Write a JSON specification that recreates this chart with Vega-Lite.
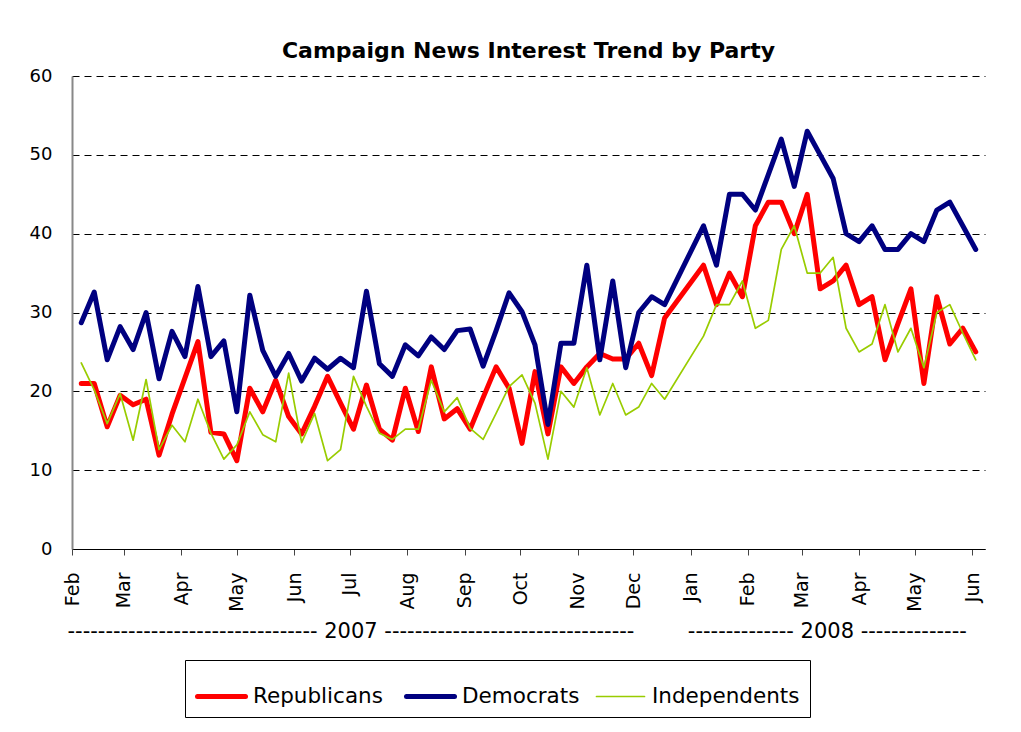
{
  "$schema": "https://vega.github.io/schema/vega-lite/v6.json",
  "width": 913,
  "height": 473,
  "padding": {"left": 29, "top": 40, "right": 30, "bottom": 10},
  "background": "white",
  "title": {
    "text": "Campaign News Interest Trend by Party",
    "font": "DejaVu Sans",
    "fontSize": 22,
    "fontWeight": "bold",
    "color": "black",
    "offset": 4,
    "anchor": "middle"
  },
  "data": {
    "values": [
      {"d": "2007-02-06", "Republicans": 21.0, "Democrats": 28.7, "Independents": 23.6},
      {"d": "2007-02-13", "Republicans": 21.0, "Democrats": 32.6, "Independents": 20.2},
      {"d": "2007-02-20", "Republicans": 15.5, "Democrats": 24.0, "Independents": 15.9},
      {"d": "2007-02-27", "Republicans": 19.5, "Democrats": 28.2, "Independents": 19.7},
      {"d": "2007-03-06", "Republicans": 18.3, "Democrats": 25.3, "Independents": 13.8},
      {"d": "2007-03-13", "Republicans": 19.0, "Democrats": 30.0, "Independents": 21.5},
      {"d": "2007-03-20", "Republicans": 11.9, "Democrats": 21.6, "Independents": 12.6},
      {"d": "2007-03-27", "Republicans": 17.1, "Democrats": 27.6, "Independents": 15.7},
      {"d": "2007-04-03", "Republicans": 21.7, "Democrats": 24.4, "Independents": 13.6},
      {"d": "2007-04-10", "Republicans": 26.3, "Democrats": 33.3, "Independents": 19.0},
      {"d": "2007-04-17", "Republicans": 14.8, "Democrats": 24.4, "Independents": 14.7},
      {"d": "2007-04-24", "Republicans": 14.6, "Democrats": 26.4, "Independents": 11.4},
      {"d": "2007-05-01", "Republicans": 11.2, "Democrats": 17.4, "Independents": 13.2},
      {"d": "2007-05-08", "Republicans": 20.4, "Democrats": 32.2, "Independents": 17.4},
      {"d": "2007-05-15", "Republicans": 17.4, "Democrats": 25.2, "Independents": 14.5},
      {"d": "2007-05-22", "Republicans": 21.4, "Democrats": 21.9, "Independents": 13.6},
      {"d": "2007-05-29", "Republicans": 16.8, "Democrats": 24.8, "Independents": 22.3},
      {"d": "2007-06-05", "Republicans": 14.6, "Democrats": 21.3, "Independents": 13.5},
      {"d": "2007-06-12", "Republicans": 18.1, "Democrats": 24.2, "Independents": 17.2},
      {"d": "2007-06-19", "Republicans": 21.9, "Democrats": 22.8, "Independents": 11.2},
      {"d": "2007-06-26", "Republicans": 18.5, "Democrats": 24.2, "Independents": 12.6},
      {"d": "2007-07-03", "Republicans": 15.2, "Democrats": 23.0, "Independents": 21.9},
      {"d": "2007-07-10", "Republicans": 20.8, "Democrats": 32.7, "Independents": 18.1},
      {"d": "2007-07-17", "Republicans": 15.2, "Democrats": 23.5, "Independents": 14.7},
      {"d": "2007-07-24", "Republicans": 13.8, "Democrats": 21.9, "Independents": 13.9},
      {"d": "2007-07-31", "Republicans": 20.4, "Democrats": 25.9, "Independents": 15.2},
      {"d": "2007-08-07", "Republicans": 14.9, "Democrats": 24.5, "Independents": 15.2},
      {"d": "2007-08-14", "Republicans": 23.1, "Democrats": 26.9, "Independents": 21.4},
      {"d": "2007-08-21", "Republicans": 16.5, "Democrats": 25.3, "Independents": 17.4},
      {"d": "2007-08-28", "Republicans": 17.8, "Democrats": 27.7, "Independents": 19.2},
      {"d": "2007-09-04", "Republicans": 15.2, "Democrats": 27.9, "Independents": 15.3},
      {"d": "2007-09-11", "Republicans": 19.2, "Democrats": 23.2, "Independents": 13.9},
      {"d": "2007-09-18", "Republicans": 23.1, "Democrats": 27.7, "Independents": 17.2},
      {"d": "2007-09-25", "Republicans": 20.4, "Democrats": 32.5, "Independents": 20.6},
      {"d": "2007-10-02", "Republicans": 13.4, "Democrats": 30.1, "Independents": 22.1},
      {"d": "2007-10-09", "Republicans": 22.5, "Democrats": 25.9, "Independents": 18.5},
      {"d": "2007-10-16", "Republicans": 14.6, "Democrats": 15.8, "Independents": 11.4},
      {"d": "2007-10-23", "Republicans": 23.1, "Democrats": 26.1, "Independents": 20.0},
      {"d": "2007-10-30", "Republicans": 21.0, "Democrats": 26.1, "Independents": 18.0},
      {"d": "2007-11-06", "Republicans": 23.1, "Democrats": 36.0, "Independents": 23.0},
      {"d": "2007-11-13", "Republicans": 24.8, "Democrats": 24.0, "Independents": 17.0},
      {"d": "2007-11-20", "Republicans": 24.1, "Democrats": 34.0, "Independents": 21.0},
      {"d": "2007-11-27", "Republicans": 24.1, "Democrats": 23.0, "Independents": 17.0},
      {"d": "2007-12-04", "Republicans": 26.1, "Democrats": 30.0, "Independents": 18.0},
      {"d": "2007-12-11", "Republicans": 22.0, "Democrats": 32.0, "Independents": 21.0},
      {"d": "2007-12-18", "Republicans": 29.3, "Democrats": 31.0, "Independents": 19.0},
      {"d": "2008-01-08", "Republicans": 36, "Democrats": 41, "Independents": 27},
      {"d": "2008-01-15", "Republicans": 31, "Democrats": 36, "Independents": 31},
      {"d": "2008-01-22", "Republicans": 35, "Democrats": 45, "Independents": 31},
      {"d": "2008-01-29", "Republicans": 32, "Democrats": 45, "Independents": 34},
      {"d": "2008-02-05", "Republicans": 41, "Democrats": 43, "Independents": 28},
      {"d": "2008-02-12", "Republicans": 44, "Democrats": 47.5, "Independents": 29},
      {"d": "2008-02-19", "Republicans": 44, "Democrats": 52, "Independents": 38},
      {"d": "2008-02-26", "Republicans": 40, "Democrats": 46, "Independents": 41},
      {"d": "2008-03-04", "Republicans": 45, "Democrats": 53, "Independents": 35},
      {"d": "2008-03-11", "Republicans": 33, "Democrats": 50, "Independents": 35},
      {"d": "2008-03-18", "Republicans": 34, "Democrats": 47, "Independents": 37},
      {"d": "2008-03-25", "Republicans": 36, "Democrats": 40, "Independents": 28},
      {"d": "2008-04-01", "Republicans": 31, "Democrats": 39, "Independents": 25},
      {"d": "2008-04-08", "Republicans": 32, "Democrats": 41, "Independents": 26},
      {"d": "2008-04-15", "Republicans": 24, "Democrats": 38, "Independents": 31},
      {"d": "2008-04-22", "Republicans": 28.6, "Democrats": 38, "Independents": 25},
      {"d": "2008-04-29", "Republicans": 33, "Democrats": 40, "Independents": 28},
      {"d": "2008-05-06", "Republicans": 21, "Democrats": 39, "Independents": 23},
      {"d": "2008-05-13", "Republicans": 32, "Democrats": 43, "Independents": 30},
      {"d": "2008-05-20", "Republicans": 26, "Democrats": 44, "Independents": 31},
      {"d": "2008-05-27", "Republicans": 28, "Democrats": 41, "Independents": 27.4},
      {"d": "2008-06-03", "Republicans": 25, "Democrats": 38, "Independents": 24}
    ]
  },
  "transform": [
    {"fold": ["Republicans", "Democrats", "Independents"], "as": ["party", "value"]}
  ],
  "mark": {"type": "line", "strokeJoin": "round", "strokeCap": "round"},
  "encoding": {
    "x": {
      "field": "d",
      "type": "temporal",
      "scale": {
        "type": "utc",
        "domain": [
          {"year": 2007, "month": 2, "date": 1, "utc": true},
          {"year": 2008, "month": 6, "date": 8, "utc": true}
        ]
      },
      "axis": {
        "values": [
          {"year": 2007, "month": 2, "date": 1, "utc": true},
          {"year": 2007, "month": 3, "date": 1, "utc": true},
          {"year": 2007, "month": 4, "date": 1, "utc": true},
          {"year": 2007, "month": 5, "date": 1, "utc": true},
          {"year": 2007, "month": 6, "date": 1, "utc": true},
          {"year": 2007, "month": 7, "date": 1, "utc": true},
          {"year": 2007, "month": 8, "date": 1, "utc": true},
          {"year": 2007, "month": 9, "date": 1, "utc": true},
          {"year": 2007, "month": 10, "date": 1, "utc": true},
          {"year": 2007, "month": 11, "date": 1, "utc": true},
          {"year": 2007, "month": 12, "date": 1, "utc": true},
          {"year": 2008, "month": 1, "date": 1, "utc": true},
          {"year": 2008, "month": 2, "date": 1, "utc": true},
          {"year": 2008, "month": 3, "date": 1, "utc": true},
          {"year": 2008, "month": 4, "date": 1, "utc": true},
          {"year": 2008, "month": 5, "date": 1, "utc": true},
          {"year": 2008, "month": 6, "date": 1, "utc": true}
        ],
        "format": "%b",
        "labelAngle": 270,
        "labelFont": "DejaVu Sans",
        "labelFontSize": 19,
        "labelColor": "black",
        "labelPadding": 17,
        "labelOverlap": false,
        "labelBound": false,
        "labelFlush": false,
        "tickSize": 6,
        "tickColor": "#444444",
        "domainColor": "black",
        "domainWidth": 1,
        "grid": false,
        "title": "---------------------------------\u00a02007\u00a0---------------------------------\u00a0\u00a0\u00a0\u00a0\u00a0\u00a0\u00a0\u00a0--------------\u00a02008\u00a0--------------",
        "titleFont": "DejaVu Sans",
        "titleFontSize": 21,
        "titleFontWeight": "normal",
        "titleColor": "black",
        "titleAnchor": "start",
        "titleX": -5,
        "titlePadding": 9
      }
    },
    "y": {
      "field": "value",
      "type": "quantitative",
      "scale": {"domain": [0, 60], "nice": false, "zero": true},
      "axis": {
        "values": [0, 10, 20, 30, 40, 50, 60],
        "title": null,
        "labelFont": "DejaVu Sans",
        "labelFontSize": 18,
        "labelColor": "black",
        "labelPadding": 20,
        "ticks": false,
        "tickSize": 0,
        "domainColor": "#888888",
        "domainWidth": 2,
        "grid": true,
        "gridColor": "black",
        "gridDash": [7, 5],
        "gridWidth": 1,
        "gridOpacity": 1
      }
    },
    "color": {
      "field": "party",
      "type": "nominal",
      "scale": {
        "domain": ["Republicans", "Democrats", "Independents"],
        "range": ["#FF0000", "#000080", "#99CC00"]
      },
      "legend": {
        "title": null,
        "orient": "none",
        "legendX": 113,
        "legendY": 584,
        "direction": "horizontal",
        "columns": 3,
        "strokeColor": "black",
        "padding": 10,
        "columnPadding": 13,
        "symbolType": "stroke",
        "symbolSize": 2304,
        "labelFont": "DejaVu Sans",
        "labelFontSize": 21.5,
        "labelColor": "black",
        "labelOffset": 5,
        "labelLimit": 400,
        "encode": {
          "symbols": {
            "update": {
              "strokeWidth": {"signal": "(datum.value === 'Independents' ? 1.7 : 5)"},
              "strokeCap": {"value": "round"}
            }
          }
        }
      }
    },
    "strokeWidth": {
      "condition": {"test": "datum.party === 'Independents'", "value": 1.7},
      "value": 5
    }
  },
  "config": {
    "view": {"stroke": null}
  }
}
